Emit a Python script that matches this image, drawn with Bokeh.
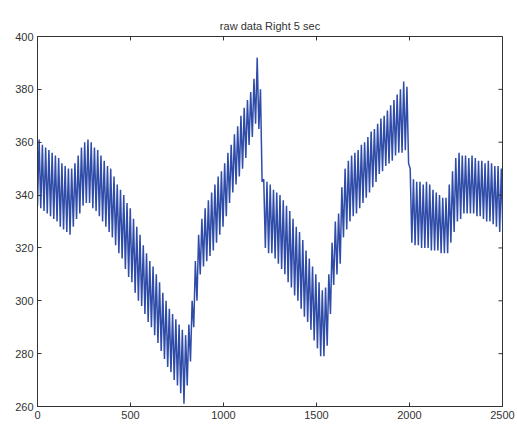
import numpy as np
from bokeh.plotting import figure
from bokeh.models import Range1d, FixedTicker
from bokeh.embed import file_html
from bokeh.resources import INLINE

# Sample spacing between successive read extrema (half an oscillation cycle)
half_cycle = 8.75

# Local minima (troughs), one per cycle, starting at sample 0
troughs = [336, 335, 334, 333, 332, 331, 330, 328, 327, 326,
           325, 328, 331, 333, 336, 337, 337, 335, 334, 332,
           330, 328, 326, 324, 321, 318, 316, 312, 309, 307,
           303, 300, 298, 295, 292, 290, 287, 284, 281, 278,
           275, 273, 270, 268, 265, 261, 268, 277, 290, 300,
           310, 313, 315, 317, 319, 322, 325, 328, 332, 337,
           341, 344, 347, 350, 354, 359, 362, 367, 365, 345,
           320, 318, 318, 316, 314, 312, 310, 307, 305, 302,
           300, 297, 294, 292, 289, 285, 282, 279, 279, 283,
           295, 306, 310, 314, 324, 327, 330, 332, 333, 335,
           337, 339, 341, 343, 345, 348, 349, 351, 352, 353,
           355, 356, 356, 357, 352, 322, 321, 321, 320, 320,
           320, 319, 319, 319, 318, 318, 318, 322, 326, 330,
           331, 333, 333, 333, 333, 332, 332, 331, 330, 330,
           329, 328, 326, 325]

# Local maxima (peaks), one per cycle, between the troughs
peaks = [361, 359, 358, 357, 356, 355, 354, 352, 351, 350,
         350, 352, 355, 358, 360, 361, 360, 358, 357, 355,
         353, 351, 350, 347, 344, 342, 340, 337, 335, 331,
         328, 325, 321, 318, 315, 313, 310, 307, 303, 300,
         297, 295, 293, 291, 289, 287, 291, 300, 315, 325,
         331, 335, 338, 341, 344, 347, 349, 352, 356, 359,
         363, 366, 370, 373, 376, 379, 384, 392, 380, 346,
         345, 344, 342, 341, 340, 338, 336, 334, 331, 328,
         326, 323, 319, 316, 313, 310, 307, 304, 305, 310,
         322, 330, 333, 343, 350, 353, 355, 356, 357, 359,
         360, 362, 364, 365, 367, 369, 370, 372, 374, 376,
         378, 380, 383, 381, 350, 346, 345, 345, 344, 345,
         344, 342, 341, 340, 339, 339, 344, 349, 354, 356,
         355, 355, 354, 355, 354, 353, 353, 352, 353, 352,
         351, 351, 350]

x_ticks = [0, 500, 1000, 1500, 2000, 2500]
y_ticks = [260, 280, 300, 320, 340, 360, 380, 400]
title_text = "raw data Right 5 sec"

# interleave troughs and peaks into one signal
values = []
for i in range(len(troughs)):
    values.append(troughs[i])
    if i < len(peaks):
        values.append(peaks[i])
samples = np.arange(len(values)) * half_cycle

p = figure(width=517, height=425, output_backend="svg", toolbar_location=None,
           x_range=Range1d(0, 2500), y_range=Range1d(260, 400),
           min_border_left=37, min_border_right=15, min_border_top=36,
           min_border_bottom=19, title=title_text)
p.title.align = "center"
p.title.text_font = "Liberation Sans"
p.title.text_font_size = "11px"
p.title.text_font_style = "normal"
p.title.text_color = "#333333"

p.line(samples, values, line_color="#2f4ca9", line_width=1.5)

p.xgrid.visible = False
p.ygrid.visible = False
p.outline_line_color = "#333333"
p.background_fill_color = "white"
p.border_fill_color = "white"

for ax in p.xaxis + p.yaxis:
    ax.major_tick_in = 4
    ax.major_tick_out = 0
    ax.minor_tick_in = 0
    ax.minor_tick_out = 0
    ax.axis_line_color = "#333333"
    ax.major_tick_line_color = "#333333"
    ax.major_label_text_font = "Liberation Sans"
    ax.major_label_text_font_size = "11px"
    ax.major_label_text_color = "#333333"
    ax.major_label_standoff = 4
p.xaxis.ticker = FixedTicker(ticks=x_ticks)
p.yaxis.ticker = FixedTicker(ticks=y_ticks)

# inward ticks on the top and right edges of the box
tick_len_x = 21.5   # ~4 px in x units
tick_len_y = 1.5    # ~4 px in y units
n_x = len(x_ticks)
n_y = len(y_ticks)
p.segment(x0=x_ticks, y0=[400] * n_x, x1=x_ticks, y1=[400 - tick_len_y] * n_x,
          line_color="#333333", line_width=1)
p.segment(x0=[2500] * n_y, y0=y_ticks, x1=[2500 - tick_len_x] * n_y, y1=y_ticks,
          line_color="#333333", line_width=1)

open("out.html", "w").write(file_html(p, INLINE))
